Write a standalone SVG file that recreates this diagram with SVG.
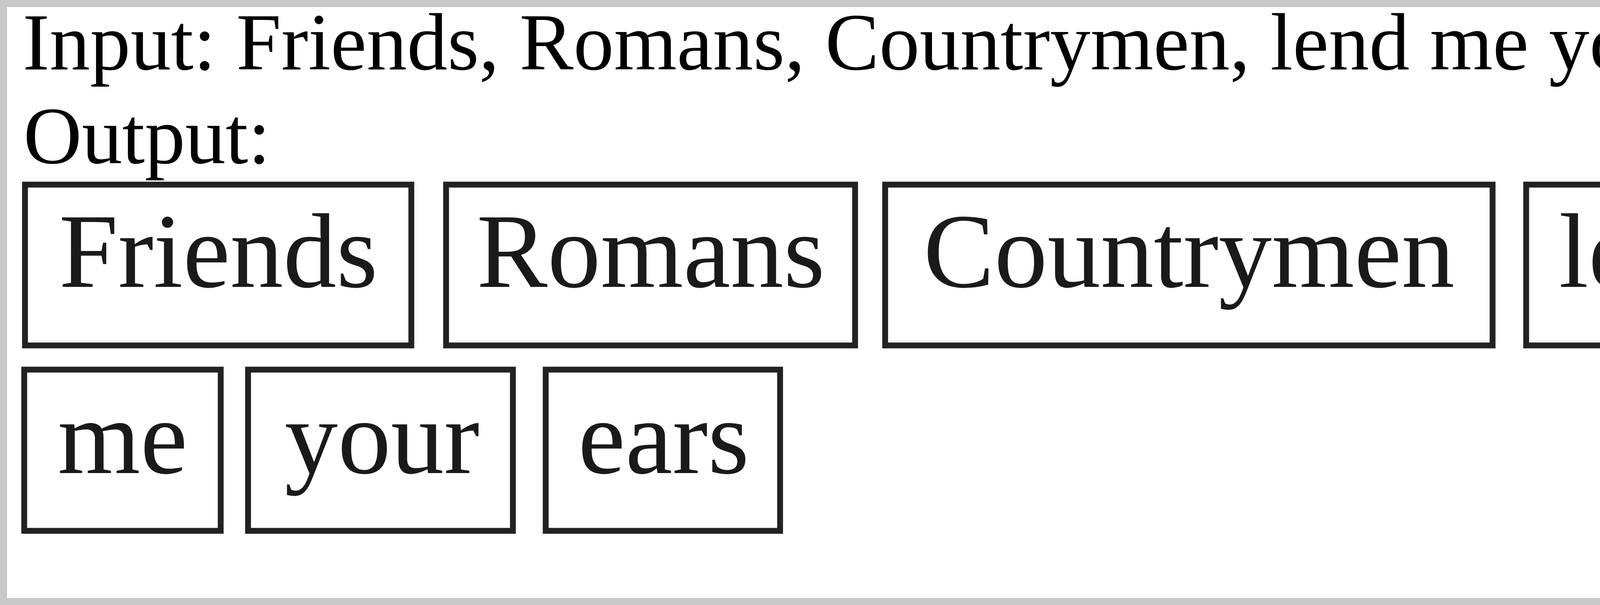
<svg xmlns="http://www.w3.org/2000/svg" width="4828" height="1550" viewBox="0 0 4828 1550">
<style>
.hdr{font-family:"Liberation Serif","Times New Roman",serif;font-size:207px;fill:#000}
.box rect{fill:#fff;stroke:#222;stroke-width:15}
.box text{font-family:"Liberation Serif","Times New Roman",serif;font-size:272px;fill:#1a1a1a;text-anchor:middle}
</style>
<rect x="9" y="9" width="4810" height="1532" fill="#fff" stroke="#c8c8c8" stroke-width="18"/>
<text class="hdr" x="58" y="178" textLength="4730" lengthAdjust="spacing">Input: Friends, Romans, Countrymen, lend me your ears;</text>
<text class="hdr" x="60" y="418">Output:</text>
<g id="connectors"></g>
<g id="n-friends" class="box"><rect x="64" y="473" width="989" height="412"/><text x="559" y="735">Friends</text></g>
<g id="n-romans" class="box"><rect x="1142" y="473" width="1047" height="412"/><text x="1666" y="735">Romans</text></g>
<g id="n-countrymen" class="box"><rect x="2266" y="473" width="1555" height="412"/><text x="3044" y="735">Countrymen</text></g>
<g id="n-lend" class="box"><rect x="3907" y="473" width="643" height="412"/><text x="4225" y="735">lend</text></g>
<g id="n-me" class="box"><rect x="62" y="947" width="503" height="413"/><text x="314" y="1212">me</text></g>
<g id="n-your" class="box"><rect x="635" y="947" width="678" height="413"/><text x="978" y="1212">your</text></g>
<g id="n-ears" class="box"><rect x="1397" y="947" width="600" height="413"/><text x="1699" y="1212">ears</text></g>
</svg>
